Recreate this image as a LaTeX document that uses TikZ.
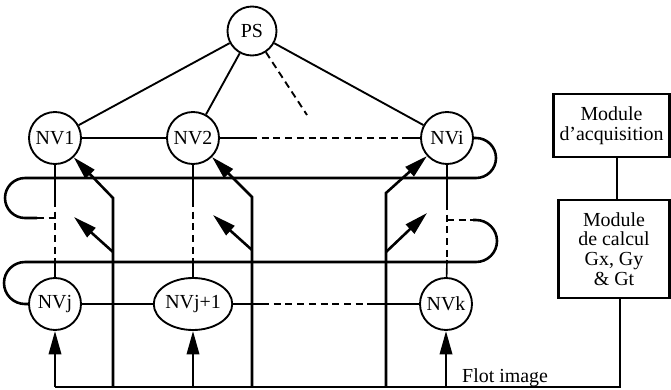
\documentclass[tikz,border=0pt]{standalone}
\usepackage{fontspec}
\setmainfont{Liberation Serif}
\usetikzlibrary{arrows.meta,shapes.geometric}
\begin{document}
\begin{tikzpicture}[x=0.03cm,y=-0.03cm,
  nv/.style={circle,draw,line width=1.6pt,minimum size=1.56cm,inner sep=0pt,font=\fontsize{17}{18}\selectfont},
  box/.style={rectangle,draw,line width=2pt,align=center,inner sep=0pt,font=\fontsize{17}{16.8}\selectfont},
  lnk/.style={line width=1.6pt},
  thn/.style={line width=1.4pt},
  thk/.style={line width=2.2pt},
  dsh/.style={dash pattern=on 6pt off 4pt},
  arr/.style={-{Triangle[length=20pt,width=10.5pt]}},
]
\useasboundingbox (0,0) rectangle (671,389);

% nodes
\node[nv,minimum size=1.47cm] (PS) at (252,31) {PS};
\node[nv] (NV1) at (55,138) {NV1};
\node[nv] (NV2) at (193,138) {NV2};
\node[nv] (NVi) at (447,138) {NVi};
\node[nv] (NVj) at (55,304) {NVj};
\node[nv,ellipse,minimum width=1.74cm,minimum height=1.56cm] (NVj1) at (193,304) {NVj+1};
\node[nv] (NVk) at (446,304) {NVk};

\node[box,minimum width=3.48cm,minimum height=1.89cm] (acq) at (611.5,125.5) {Module\\d’acquisition};
\node[box,minimum width=3.33cm,minimum height=2.94cm] (calc) at (614,249) {Module\\de calcul\\Gx, Gy\\\& Gt};
\node[font=\fontsize{17}{18}\selectfont,anchor=base west,inner sep=0pt] (flot) at (462,382) {Flot image};

% PS links
\coordinate (dend) at (307,115);
\draw[lnk] (PS) -- (NV1);
\draw[lnk] (PS) -- (NV2);
\draw[lnk] (PS) -- (NVi);
\draw[lnk,dsh] (PS) -- (dend);

% top row
\draw[thn] (NV1) -- (NV2);
\coordinate (t1) at (250,138);
\coordinate (t2) at (405,138);
\draw[thn] (NV2) -- (t1);
\draw[thn,dsh] (t1) -- (t2);
\draw[thn] (t2) -- (NVi);

% bottom row
\draw[thn] (NVj) -- (NVj1);
\coordinate (b1) at (262,304);
\coordinate (b2) at (373,304);
\draw[thn] (NVj1) -- (b1);
\draw[thn,dsh] (b1) -- (b2);
\draw[thn] (b2) -- (NVk);

% columns
\coordinate (c1a) at (55,200); \coordinate (c1b) at (55,258);
\draw[thn] (NV1) -- (c1a);
\draw[thn,dsh] (c1a) -- (c1b);
\draw[thn] (c1b) -- (NVj);
\coordinate (c2a) at (193,200); \coordinate (c2b) at (193,258);
\draw[thn] (NV2) -- (c2a);
\draw[thn,dsh] (c2a) -- (c2b);
\draw[thn] (c2b) -- (NVj1);
\coordinate (c3a) at (447,203); \coordinate (c3b) at (447,260);
\draw[thn] (NVi) -- (c3a);
\draw[thn,dsh] (c3a) -- (c3b);
\draw[thn] (c3b) -- (NVk);

% upper ring line with loops
\coordinate (l1s) at (37,218);
\coordinate (l1e) at (55,218);
\draw[thk] (NVi.east) -- (476,138) arc[start angle=90,end angle=-90,radius=0.6cm]
  -- (25,178) arc[start angle=90,end angle=270,radius=0.6cm] -- (l1s);
\draw[thn,dsh] (l1s) -- (l1e);

% lower ring line with loops
\coordinate (l2s) at (447,220);
\coordinate (l2e) at (473,220);
\draw[thn,dsh] (l2s) -- (l2e);
\draw[thk] (l2e) -- (476,220) arc[start angle=90,end angle=-90,radius=0.63cm]
  -- (25,262) arc[start angle=90,end angle=270,radius=0.63cm] -- (NVj.west);

% bus
\coordinate (busA) at (55,387);
\coordinate (busB) at (193,387);
\coordinate (busC) at (446,387);
\coordinate (busR) at (620,387);
\coordinate (v1) at (113,387); \coordinate (v1t) at (113,198);
\coordinate (v2) at (252,387); \coordinate (v2t) at (252,197);
\coordinate (v3) at (386,387); \coordinate (v3t) at (386,193);
\draw[thk] (calc.south -| busR) -- (busR) -- (busA);
\draw[thk] (acq.south -| 617,0) -- (calc.north -| 617,0);

\draw[thk,arr] (busA) -- (NVj);
\draw[thk,arr] (busB) -- (NVj1);
\draw[thk,arr] (busC) -- (NVk);

\draw[thk,arr] (v1) -- (v1t) -- (NV1);
\draw[thk,arr] (v2) -- (v2t) -- (NV2);
\draw[thk,arr] (v3) -- (v3t) -- (NVi);

% free arrows
\coordinate (f1s) at (113,252); \coordinate (f1e) at (74,217);
\coordinate (f2s) at (252,250); \coordinate (f2e) at (213,215);
\coordinate (f3s) at (386,252); \coordinate (f3e) at (427,213);
\draw[thk,arr] (f1s) -- (f1e);
\draw[thk,arr] (f2s) -- (f2e);
\draw[thk,arr] (f3s) -- (f3e);
\end{tikzpicture}
\end{document}
